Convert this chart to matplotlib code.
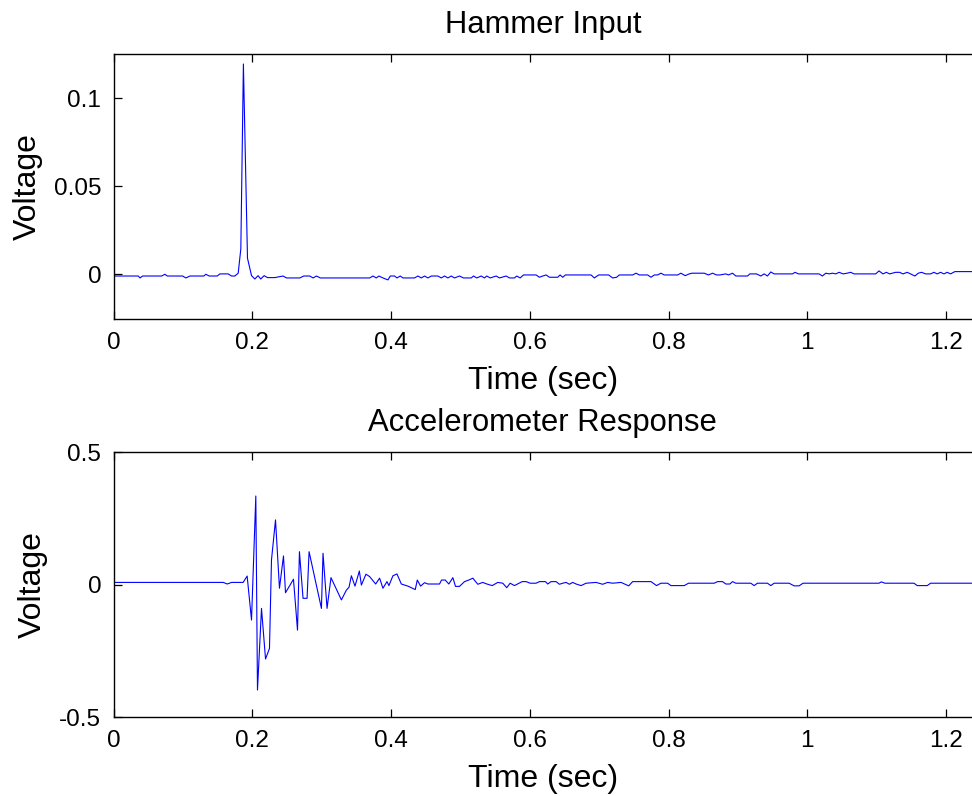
import matplotlib
matplotlib.use("Agg")
import matplotlib.pyplot as plt

plt.rcParams['font.family'] = ['Liberation Sans', 'DejaVu Sans']

# ---- Data ----
hammer_t = [0.0, 0.0355, 0.0379, 0.0417, 0.0691, 0.0739, 0.0772, 0.0993, 0.1041, 0.1099,
            0.13, 0.1329, 0.1377, 0.1492, 0.1531, 0.165, 0.1699, 0.1747, 0.1795, 0.1833,
            0.187, 0.1929, 0.1987, 0.2035, 0.2082, 0.212, 0.2169, 0.2217, 0.2323, 0.2442,
            0.2491, 0.2683, 0.274, 0.2827, 0.2875, 0.2923, 0.298, 0.3691, 0.3738, 0.3786,
            0.3824, 0.3882, 0.3954, 0.3988, 0.405, 0.4084, 0.4132, 0.417, 0.4338, 0.4386,
            0.4435, 0.4482, 0.453, 0.4579, 0.4674, 0.4723, 0.477, 0.4818, 0.4867, 0.4914,
            0.4986, 0.5044, 0.5155, 0.5188, 0.5235, 0.5299, 0.5346, 0.5379, 0.5428, 0.5515,
            0.5562, 0.5659, 0.5706, 0.5778, 0.5811, 0.586, 0.5908, 0.609, 0.6138, 0.6186,
            0.6235, 0.6282, 0.6402, 0.6436, 0.6474, 0.6513, 0.6883, 0.693, 0.6992, 0.7136,
            0.7194, 0.7251, 0.729, 0.7482, 0.7531, 0.7579, 0.7698, 0.7747, 0.7795, 0.7843,
            0.789, 0.7938, 0.813, 0.8178, 0.824, 0.8298, 0.8337, 0.8514, 0.8576, 0.8634,
            0.8691, 0.874, 0.8826, 0.8864, 0.8922, 0.897, 0.9138, 0.9172, 0.9267, 0.9331,
            0.9378, 0.9426, 0.9474, 0.9522, 0.9786, 0.9824, 0.9872, 1.017, 1.0218, 1.0267,
            1.0315, 1.0363, 1.0411, 1.0459, 1.0517, 1.0574, 1.0627, 1.0674, 1.0986, 1.1034,
            1.1092, 1.1139, 1.1188, 1.1274, 1.1332, 1.1379, 1.1441, 1.149, 1.1552, 1.16,
            1.1649, 1.1706, 1.1778, 1.1826, 1.1873, 1.1922, 1.197, 1.2017, 1.2066, 1.2128,
            1.233, 1.24]
hammer_v = [-0.001, -0.001, -0.0021, -0.001, -0.001, 0.0, -0.001, -0.001, -0.0021, -0.001,
            -0.001, 0.0, -0.001, -0.001, 0.0002, 0.0002, -0.001, -0.001, 0.0006, 0.0145,
            0.1195, 0.0091, -0.0008, -0.0027, -0.0008, -0.0027, -0.0008, -0.0019, -0.0019, -0.001,
            -0.0021, -0.0021, -0.001, -0.001, -0.0021, -0.001, -0.0021, -0.0021, -0.001, -0.0021,
            -0.001, -0.0021, -0.0032, -0.001, -0.001, -0.0021, -0.001, -0.0021, -0.0021, -0.001,
            -0.0021, -0.001, -0.0021, -0.001, -0.001, -0.0021, -0.001, -0.0021, -0.001, -0.0021,
            -0.001, -0.0021, -0.0021, -0.001, -0.0021, -0.001, -0.0021, -0.001, -0.0021, -0.001,
            -0.0021, -0.001, -0.0021, -0.0021, -0.001, -0.0021, -0.0004, -0.0004, -0.0017, -0.001,
            -0.0004, -0.0017, -0.0017, -0.0004, -0.0017, -0.0004, -0.0004, -0.0021, -0.0004, -0.0004,
            -0.0021, -0.0017, -0.0004, -0.0004, 0.0006, -0.0004, -0.0004, -0.0017, -0.0004, -0.0004,
            0.0006, -0.0004, -0.0004, 0.0006, -0.0008, 0.0002, 0.0006, 0.0006, -0.0004, 0.0006,
            -0.0004, -0.0004, 0.0002, -0.0004, 0.0006, -0.001, -0.001, 0.0002, 0.0002, -0.001,
            0.0002, -0.001, 0.0013, 0.0002, 0.0002, 0.0011, 0.0002, 0.0002, -0.001, 0.0006,
            0.0002, 0.0006, 0.0002, 0.0011, 0.0002, 0.0006, 0.0011, 0.0002, 0.0002, 0.0019,
            0.0002, 0.0011, 0.0002, 0.0011, 0.0011, 0.0002, 0.0011, 0.0002, -0.001, 0.0006,
            0.0011, 0.0002, 0.0002, 0.0011, 0.0002, 0.0011, 0.0002, 0.0011, 0.0002, 0.0015,
            0.0015, 0.0015]

accel_t = [0.0, 0.158, 0.1636, 0.170, 0.1866, 0.1924, 0.1987, 0.2049, 0.2073, 0.2131,
           0.2189, 0.2246, 0.2275, 0.2333, 0.239, 0.2448, 0.2477, 0.2592, 0.265, 0.2678,
           0.273, 0.2788, 0.2817, 0.2995, 0.3018, 0.3076, 0.3133, 0.3283, 0.3355, 0.3393,
           0.3427, 0.3479, 0.3542, 0.3571, 0.3637, 0.369, 0.3777, 0.3834, 0.3882, 0.394,
           0.3968, 0.4026, 0.4084, 0.4147, 0.4242, 0.4348, 0.4377, 0.4425, 0.4482, 0.453,
           0.4698, 0.4727, 0.478, 0.4832, 0.489, 0.4928, 0.4986, 0.5058, 0.512, 0.5178,
           0.525, 0.532, 0.538, 0.5457, 0.5538, 0.561, 0.5667, 0.5716, 0.5778, 0.5889,
           0.5947, 0.6004, 0.609, 0.6138, 0.6225, 0.6258, 0.6306, 0.6379, 0.6426, 0.6474,
           0.6523, 0.657, 0.6618, 0.6667, 0.6739, 0.6811, 0.6955, 0.705, 0.7122, 0.7194,
           0.7315, 0.7425, 0.7482, 0.7747, 0.7827, 0.789, 0.7986, 0.8035, 0.8226, 0.8288,
           0.8658, 0.8706, 0.8778, 0.8826, 0.8884, 0.8922, 0.897, 0.9186, 0.9234, 0.9282,
           0.9426, 0.9474, 0.9522, 0.9738, 0.981, 0.9882, 0.9939, 1.1034, 1.1067, 1.112,
           1.1538, 1.1586, 1.173, 1.1778, 1.24]
accel_v = [0.009, 0.009, 0.003, 0.009, 0.009, 0.033, -0.133, 0.335, -0.397, -0.089,
           -0.28, -0.24, 0.094, 0.245, -0.013, 0.109, -0.03, 0.021, -0.171, 0.125,
           -0.051, -0.051, 0.125, -0.089, 0.119, -0.089, 0.027, -0.057, -0.02, -0.009,
           0.034, -0.005, 0.052, -0.001, 0.04, 0.031, 0.003, 0.025, -0.013, 0.012,
           -0.003, 0.034, 0.041, 0.003, -0.005, -0.018, 0.018, -0.005, 0.008, 0.003,
           0.003, 0.018, 0.018, 0.003, 0.027, -0.006, -0.006, 0.012, 0.018, 0.025,
           0.002, 0.009, 0.003, -0.003, 0.009, 0.006, -0.011, 0.006, -0.003, 0.012,
           0.012, 0.006, 0.006, 0.012, 0.012, 0.003, 0.012, 0.012, 0.002, 0.006,
           0.009, 0.002, 0.009, 0.003, -0.003, 0.006, 0.009, 0.002, 0.009, 0.006,
           0.009, -0.004, 0.012, 0.012, -0.003, 0.006, 0.006, -0.003, -0.003, 0.006,
           0.006, 0.012, 0.012, 0.003, 0.003, 0.012, 0.006, 0.006, -0.003, 0.006,
           0.006, -0.003, 0.006, 0.006, -0.004, -0.004, 0.006, 0.006, 0.011, 0.006,
           0.006, -0.003, -0.003, 0.006, 0.006]

x_ticks = [0, 0.2, 0.4, 0.6, 0.8, 1.0, 1.2]
x_ticklabels = ['0', '0.2', '0.4', '0.6', '0.8', '1', '1.2']
top_yticks = [0, 0.05, 0.1]
top_yticklabels = ['0', '0.05', '0.1']
bot_yticks = [-0.5, 0, 0.5]
bot_yticklabels = ['-0.5', '0', '0.5']

W, H = 972, 796
fig = plt.figure(figsize=(W / 100, H / 100), dpi=100)

left = 113.7 / W
width = 1.0 - left
ax_h = 265 / H
ax1 = fig.add_axes([left, 1 - 319.3 / H, width, ax_h])
ax2 = fig.add_axes([left, 1 - 717.3 / H, width, ax_h])

def style(ax, yticks, ylabels, ylim, title):
    ax.set_xlim(0, 1.2375)
    ax.set_ylim(*ylim)
    ax.set_xticks(x_ticks)
    ax.set_xticklabels(x_ticklabels)
    ax.set_yticks(yticks)
    ax.set_yticklabels(ylabels)
    ax.tick_params(direction='in', length=6, width=0.9, top=True, right=False,
                   labelsize=17.5, pad=9, colors='black')
    for s in ['left', 'bottom', 'top']:
        ax.spines[s].set_linewidth(1.0)
        ax.spines[s].set_color('black')
    ax.spines['right'].set_visible(False)
    ax.set_xlabel('Time (sec)', fontsize=23, labelpad=8.5)
    ax.set_ylabel('Voltage', fontsize=23, labelpad=8)
    ax.set_title(title, fontsize=22.3, pad=15)

ax1.plot(hammer_t, hammer_v, color='#0000ff', lw=0.8)
style(ax1, top_yticks, top_yticklabels, (-0.0256, 0.125), 'Hammer Input')

ax2.plot(accel_t, accel_v, color='#0000ff', lw=0.8)
style(ax2, bot_yticks, bot_yticklabels, (-0.5, 0.5), 'Accelerometer Response')

fig.savefig('out.png', dpi=100)
